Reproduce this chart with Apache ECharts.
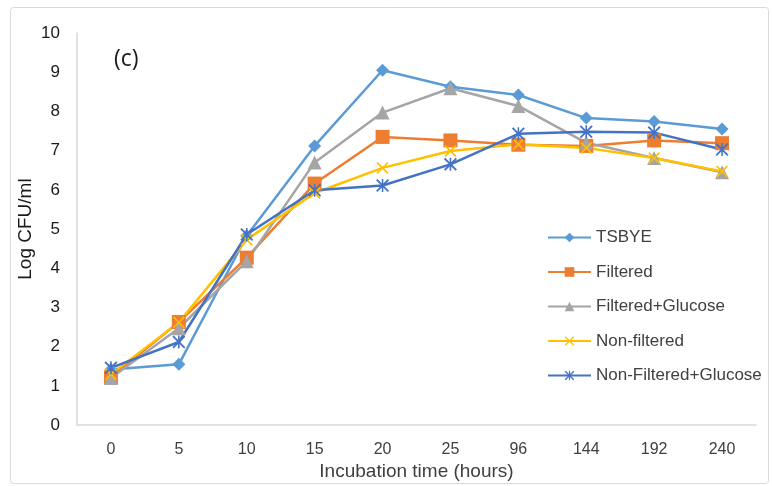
<!DOCTYPE html>
<html lang="en">
<head>
    <meta charset="UTF-8">
    <title>Log CFU/ml vs incubation time</title>
    <script src="https://cdn.jsdelivr.net/npm/echarts@6/dist/echarts.min.js"></script>
    <style>
        html, body { margin: 0; padding: 0; background: #fff; }
        #main { width: 772px; height: 486px; }
    </style>
</head>
<body>
    <div id="main"></div>
    <script>
        // incubation times (hours), category axis
        var hours = ['0', '5', '10', '15', '20', '25', '96', '144', '192', '240'];

        var tsbye        = [1.42, 1.55, 4.83, 7.12, 9.05, 8.63, 8.42, 7.83, 7.74, 7.55];
        var filtered     = [1.22, 2.63, 4.27, 6.16, 7.35, 7.26, 7.15, 7.12, 7.26, 7.19];
        var filteredGlu  = [1.20, 2.47, 4.18, 6.70, 7.97, 8.59, 8.14, 7.20, 6.81, 6.45];
        var nonFiltered  = [1.30, 2.62, 4.73, 5.92, 6.56, 6.99, 7.16, 7.07, 6.81, 6.47];
        var nonFilGlu    = [1.46, 2.12, 4.86, 5.99, 6.11, 6.65, 7.43, 7.48, 7.46, 7.03];

        var yTicks = [0, 1, 2, 3, 4, 5, 6, 7, 8, 9, 10];

        var xMark = 'path://M0,1 L1,0 L5,4 L9,0 L10,1 L6,5 L10,9 L9,10 L5,6 L1,10 L0,9 L4,5 Z';
        var starMark = 'path://M0,1 L1,0 L5,4 L9,0 L10,1 L6,5 L10,9 L9,10 L5,6 L1,10 L0,9 L4,5 Z M4.4,0 L5.6,0 L5.6,10 L4.4,10 Z';

        function makeSeries(name, data, color, symbol, size) {
            return {
                name: name,
                type: 'line',
                data: data,
                symbol: symbol,
                symbolSize: size,
                lineStyle: { color: color, width: 2.5 },
                itemStyle: { color: color, borderWidth: 0 },
                emphasis: { disabled: true }
            };
        }

        var myChart = echarts.init(document.getElementById('main'));
        var option = {
            animation: false,
            textStyle: { fontFamily: 'Liberation Sans, Arial, sans-serif' },
            grid: { left: 77, right: 16, top: 33, bottom: 60 },
            graphic: [
                {
                    type: 'rect',
                    shape: { x: 10.5, y: 7.5, width: 758, height: 476, r: 3 },
                    style: { fill: 'none', stroke: '#d9d9d9', lineWidth: 1 },
                    silent: true
                },
                {
                    type: 'text',
                    left: 114, top: 48,
                    style: { text: '(c)', fontSize: 23, fill: '#1a1a1a', fontFamily: 'Open Sans, Liberation Sans, sans-serif' }
                }
            ],
            legend: {
                orient: 'vertical',
                left: 542,
                top: 224,
                itemWidth: 43,
                itemHeight: 12,
                itemGap: 17.5,
                textStyle: { fontSize: 17, color: '#404040' },
                data: ['TSBYE', 'Filtered', 'Filtered+Glucose', 'Non-filtered', 'Non-Filtered+Glucose']
            },
            xAxis: {
                type: 'category',
                data: hours,
                boundaryGap: true,
                name: 'Incubation time (hours)',
                nameLocation: 'middle',
                nameGap: 33,
                nameTextStyle: { fontSize: 19, color: '#404040' },
                axisLine: { lineStyle: { color: '#d9d9d9', width: 1.5 } },
                axisTick: { show: false },
                axisLabel: { fontSize: 16, color: '#404040', margin: 16 },
                splitLine: { show: false }
            },
            yAxis: {
                type: 'value',
                min: yTicks[0],
                max: yTicks[yTicks.length - 1],
                interval: 1,
                name: 'Log CFU/ml',
                nameLocation: 'middle',
                nameGap: 42,
                nameMoveOverlap: false,
                nameTextStyle: { fontSize: 19, color: '#1a1a1a' },
                axisLine: { show: true, lineStyle: { color: '#d9d9d9', width: 1.5 } },
                axisTick: { show: false },
                axisLabel: { fontSize: 17, color: '#1a1a1a', margin: 17 },
                splitLine: { show: false }
            },
            series: [
                makeSeries('TSBYE', tsbye, '#5B9BD5', 'diamond', 13),
                makeSeries('Filtered', filtered, '#ED7D31', 'rect', 14),
                makeSeries('Filtered+Glucose', filteredGlu, '#A5A5A5', 'triangle', 14),
                makeSeries('Non-filtered', nonFiltered, '#FFC000', xMark, 12),
                makeSeries('Non-Filtered+Glucose', nonFilGlu, '#4472C4', starMark, 13)
            ]
        };
        myChart.setOption(option);
    </script>
</body>
</html>
